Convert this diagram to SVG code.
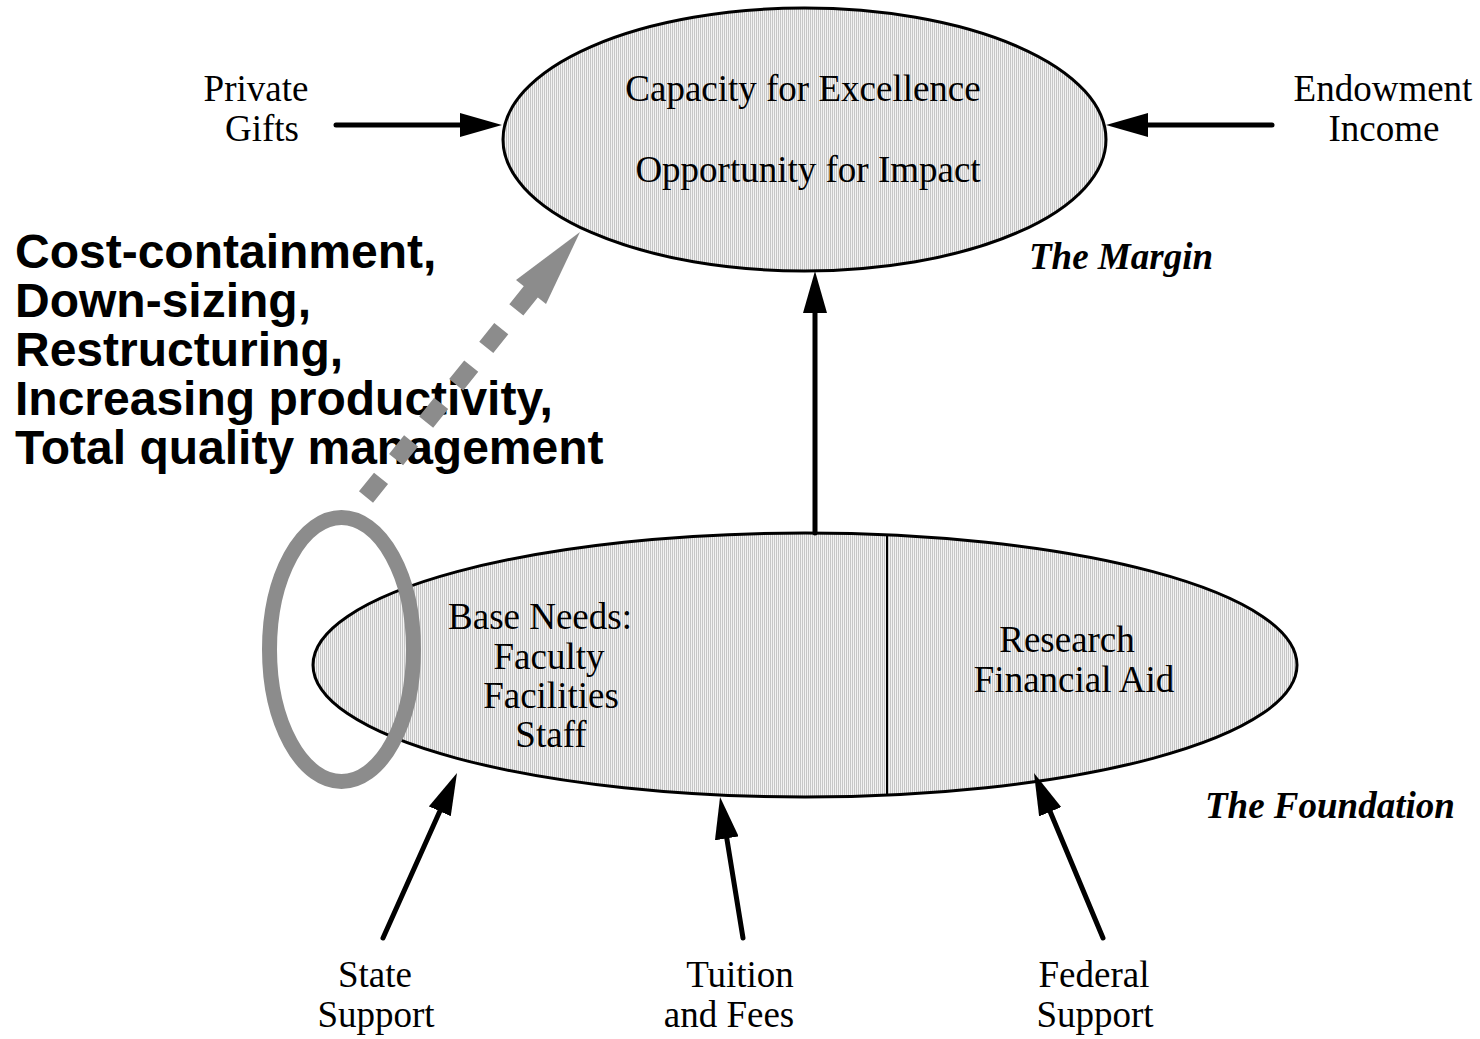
<svg xmlns="http://www.w3.org/2000/svg" width="1480" height="1039" viewBox="0 0 1480 1039">
<style>
.t{font-family:"Liberation Serif","Times New Roman",serif;font-size:37px;fill:#000;text-anchor:middle}
.bi{font-family:"Liberation Serif","Times New Roman",serif;font-size:37px;font-weight:bold;font-style:italic;fill:#000}
.big{font-family:"Liberation Sans",Arial,sans-serif;font-size:48px;font-weight:bold;fill:#000}
.node{fill:url(#hatch);stroke:#000;stroke-width:3}
.arr{stroke:#000;stroke-width:5;stroke-linecap:round;fill:none;marker-end:url(#ah)}
</style>
<defs>
<pattern id="hatch" patternUnits="userSpaceOnUse" width="2" height="2">
<rect width="2" height="2" fill="#f2f2f2"/>
<rect width="1" height="2" fill="#c6c6c6"/>
</pattern>
<marker id="ah" markerUnits="userSpaceOnUse" viewBox="0 0 42 24" refX="0" refY="12" markerWidth="42" markerHeight="24" orient="auto">
<path d="M0,0 L42,12 L0,24 Z" fill="#000"/>
</marker>
</defs>
<rect width="1480" height="1039" fill="#fff"/>

<g id="margin">
<ellipse class="node" cx="804.5" cy="139.5" rx="301.5" ry="131.5"/>
<text class="t" x="803" y="101">Capacity for Excellence</text>
<text class="t" x="808" y="182">Opportunity for Impact</text>
</g>
<text class="bi" x="1029" y="269">The Margin</text>

<g id="foundation">
<ellipse class="node" cx="805" cy="665" rx="492" ry="132"/>
<line x1="887" y1="534" x2="887" y2="796" stroke="#000" stroke-width="2"/>
<text class="t" x="540" y="629">Base Needs:</text>
<text class="t" x="549" y="669">Faculty</text>
<text class="t" x="551" y="708">Facilities</text>
<text class="t" x="551" y="747">Staff</text>
<text class="t" x="1067" y="652">Research</text>
<text class="t" x="1074" y="692">Financial Aid</text>
</g>
<text class="bi" x="1205" y="818">The Foundation</text>

<g id="private-gifts">
<text class="t" x="256" y="101">Private</text>
<text class="t" x="262" y="141">Gifts</text>
</g>
<g id="endowment">
<text class="t" x="1383" y="101">Endowment</text>
<text class="t" x="1384" y="141">Income</text>
</g>
<g id="state">
<text class="t" x="375" y="987">State</text>
<text class="t" x="376" y="1027">Support</text>
</g>
<g id="tuition">
<text class="t" x="740" y="987">Tuition</text>
<text class="t" x="729" y="1027">and Fees</text>
</g>
<g id="federal">
<text class="t" x="1094" y="987">Federal</text>
<text class="t" x="1095" y="1027">Support</text>
</g>

<g id="strategies">
<text class="big" x="15" y="268">Cost-containment,</text>
<text class="big" x="15" y="317">Down-sizing,</text>
<text class="big" x="15" y="366">Restructuring,</text>
<text class="big" x="15" y="415">Increasing productivity,</text>
<text class="big" x="15" y="464">Total quality management</text>
</g>

<g id="connectors">
<line class="arr" x1="336" y1="125" x2="460" y2="125"/>
<line class="arr" x1="1272" y1="125" x2="1148" y2="125"/>
<line class="arr" x1="815" y1="533" x2="815" y2="313"/>
<line class="arr" x1="383" y1="938" x2="439.8" y2="811.3"/>
<line class="arr" x1="743" y1="938" x2="726.8" y2="838.4"/>
<line class="arr" x1="1103" y1="938" x2="1050.2" y2="811.8"/>
<line x1="366" y1="497" x2="531.5" y2="291" stroke="#8c8c8c" stroke-width="18" stroke-dasharray="24 24"/>
<polygon points="580,232 546,304 516,280" fill="#8c8c8c"/>
</g>

<g id="focus-ring">
<ellipse cx="341.5" cy="649.5" rx="72" ry="132" fill="none" stroke="#8c8c8c" stroke-width="15"/>
</g>
</svg>
